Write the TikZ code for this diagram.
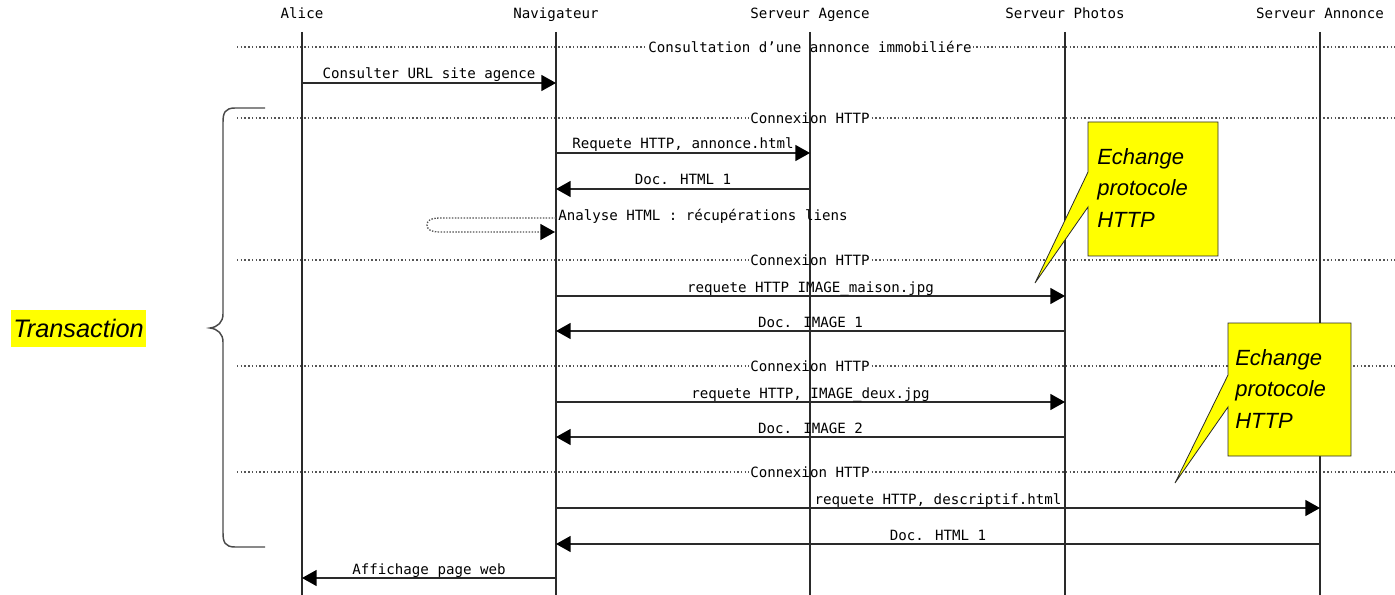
\documentclass[tikz,border=0pt]{standalone}
\usepackage{fontspec}
\setmainfont{Liberation Sans}
\newfontfamily\msc{DejaVu Sans Mono}
\usetikzlibrary{arrows.meta,calc}
\definecolor{ink}{HTML}{2A2A2A}
\definecolor{sep}{HTML}{555555}
\definecolor{note}{HTML}{FFFF00}

\begin{document}
\begin{tikzpicture}[x=0.75pt,y=-0.75pt,
  mono/.style={font=\msc\fontsize{10.6}{12}\selectfont, text=black, inner sep=0pt},
  actor/.style={mono, anchor=base},
  life/.style={draw=ink, line width=1.1pt},
  tip/.style={-{Triangle[length=11pt,width=12pt,color=black]}},
  msg/.style={draw=ink, line width=1.1pt, tip},
  lbl/.style={mono, anchor=base, yshift=3pt},
  sepline/.style={draw=sep, line width=1pt, dash pattern=on 1.1pt off 1.7pt},
  seplbl/.style={mono, fill=white, inner xsep=1pt, inner ysep=1.5pt},
  selfmsg/.style={draw=sep, line width=1pt, dash pattern=on 1.1pt off 1.1pt, tip},
  brace/.style={draw=ink!85, line width=1.1pt},
  callout/.style={fill=note, draw=ink, line width=0.6pt},
  notetext/.style={font=\itshape\fontsize{16.5}{23.6}\selectfont, align=left,
    anchor=north west, inner sep=0pt, text=black},
]
\useasboundingbox (0,0) rectangle (1395,595);

% lifeline positions
\coordinate (A) at (302,0);
\coordinate (N) at (556,0);
\coordinate (G) at (810,0);
\coordinate (P) at (1065,0);
\coordinate (R) at (1320,0);

% actors
\node[actor] (hA) at (302,19) {Alice};
\node[actor] (hN) at (556,19) {Navigateur};
\node[actor] (hG) at (810,19) {Serveur Agence};
\node[actor] (hP) at (1065,19) {Serveur Photos};
\node[actor] (hR) at (1320,19) {Serveur Annonce};

% section separators
\foreach \y/\t [count=\i] in {47/{Consultation d’une annonce immobiliére},
    118/{Connexion HTTP}, 260/{Connexion HTTP}, 366/{Connexion HTTP}, 472/{Connexion HTTP}} {
  \draw[sepline] (237,\y) -- (1395,\y);
  \node[seplbl] (sep\i) at (810,\y) {\t};
}

% lifelines
\foreach \c in {A,N,G,P,R}
  \draw[life] ($(\c)+(0,32)$) -- ($(\c)+(0,595)$);

% messages
\draw[msg] ($(A)+(0,83)$) -- node[lbl] (m1) {Consulter URL site agence} ($(N)+(0,83)$);
\draw[msg] ($(N)+(0,153)$) -- node[lbl] (m2) {Requete HTTP, annonce.html} ($(G)+(0,153)$);
\draw[msg] ($(G)+(0,189)$) -- node[lbl] (m3) {Doc. HTML 1} ($(N)+(0,189)$);

% self message on the browser
\coordinate (loopL) at (427,225);
\draw[selfmsg] ($(N)+(0,218)$) -- (440,218) .. controls (430,218) and (427,221) .. (loopL)
  .. controls (427,229) and (430,232) .. (440,232) -- ($(N)+(-1,232)$);
\node[mono, anchor=base west] (m4) at (558,221) {Analyse HTML : récupérations liens};

\draw[msg] ($(N)+(0,296)$) -- node[lbl] (m5) {requete HTTP IMAGE\_maison.jpg} ($(P)+(0,296)$);
\draw[msg] ($(P)+(0,331)$) -- node[lbl] (m6) {Doc. IMAGE 1} ($(N)+(0,331)$);
\draw[msg] ($(N)+(0,402)$) -- node[lbl] (m7) {requete HTTP, IMAGE\_deux.jpg} ($(P)+(0,402)$);
\draw[msg] ($(P)+(0,437)$) -- node[lbl] (m8) {Doc. IMAGE 2} ($(N)+(0,437)$);
\draw[msg] ($(N)+(0,508)$) -- node[lbl] (m9) {requete HTTP, descriptif.html} ($(R)+(0,508)$);
\draw[msg] ($(R)+(0,544)$) -- node[lbl] (m10) {Doc. HTML 1} ($(N)+(0,544)$);
\draw[msg] ($(N)+(0,578)$) -- node[lbl] (m11) {Affichage page web} ($(A)+(0,578)$);

% transaction brace and label
\draw[brace] (265,108) -- (235,108) .. controls (225,108) and (223,113) .. (223,122)
  -- (223,314) .. controls (223,322) and (218,327) .. (210,328)
  .. controls (218,329) and (223,334) .. (223,342)
  -- (223,533) .. controls (223,542) and (225,547) .. (235,547) -- (265,547);
\node[fill=note, font=\itshape\fontsize{19}{22}\selectfont, inner xsep=1.5pt, inner ysep=0pt,
  minimum height=27.75pt] (trans) at (78.5,328.5) {Transaction};

% callouts
\draw[callout] (1088,122) -- (1218,122) -- (1218,256) -- (1088,256) -- (1088,207)
  -- (1035,283) -- (1088,172) -- cycle;
\node[notetext] (note1) at (1097,148) {Echange\\protocole\\HTTP};

\draw[callout] (1228,323) -- (1351,323) -- (1351,456) -- (1228,456) -- (1228,407)
  -- (1175,483) -- (1228,375) -- cycle;
\node[notetext] (note2) at (1235,349) {Echange\\protocole\\HTTP};
\end{tikzpicture}
\end{document}
